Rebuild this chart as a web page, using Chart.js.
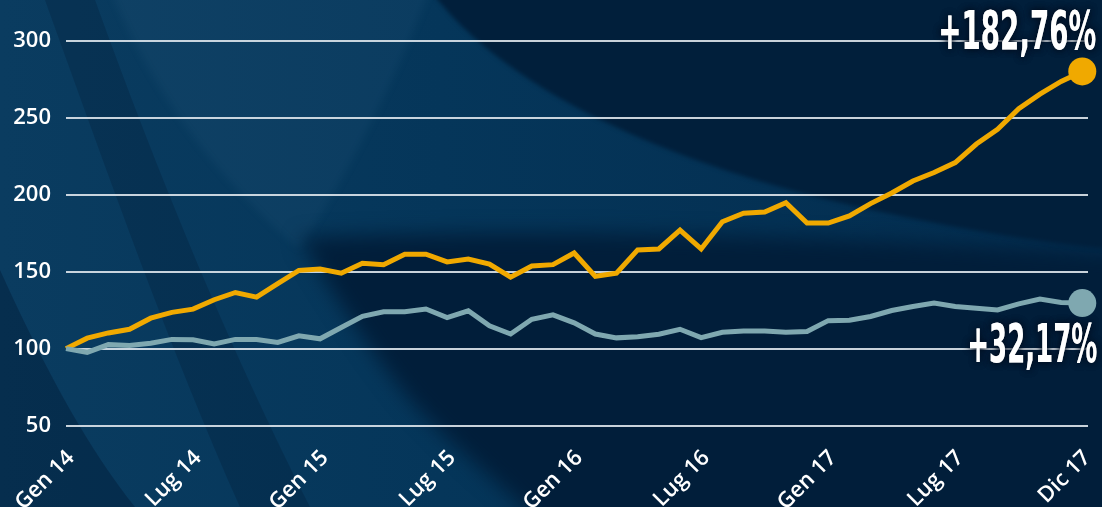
<!DOCTYPE html>
<html><head><meta charset="utf-8">
<script src="https://cdn.jsdelivr.net/npm/chart.js@4.4.1/dist/chart.umd.min.js"></script>
<style>html,body{margin:0;padding:0;background:#022443;overflow:hidden}#wrap{width:1102px;height:507px;position:relative}canvas{display:block}</style>
</head><body><div id="wrap"><canvas id="c" width="1102" height="507"></canvas></div>
<script>
// ---- data ----
const tickLabels = ['Gen 14','Lug 14','Gen 15','Lug 15','Gen 16','Lug 16','Gen 17','Lug 17','Dic 17'];
const tickPositions = [0,6,12,18,24,30,36,42,48];
const yTicks = [50,100,150,200,250,300];
const fundValues = [100,106.8,110.2,112.6,119.8,123.6,125.7,131.8,136.5,133.5,142.2,150.9,151.7,149,155.5,154.6,161.4,161.4,156.4,158.3,155,146.5,153.7,154.6,162.2,147,149.1,164.2,164.8,177.1,164.8,182.5,188,188.8,194.9,181.6,181.6,186.3,194.3,201.2,209,214.5,221,233,242.6,256,265.4,273.7,280.2];
const benchValues = [100,97.6,102.6,102,103.5,106,105.7,103,106,106,104,108.3,106.4,113.7,121,124,124,125.8,120.2,124.6,114.8,109.5,119.1,122,116.8,109.5,107,107.8,109.4,112.6,107.2,110.6,111.5,111.5,110.7,111.2,118.2,118.4,120.9,124.8,127.4,129.6,127.4,126.3,125.2,129.1,132.2,130,129.6];
const endLabels = ['+182,76%','+32,17%'];
const fundColor = '#f0a900';
const benchColor = '#7fa8b0';

function bgDraw(chart){
  const ctx = chart.ctx, W = chart.width, H = chart.height;
  ctx.save();
  // base gradient: lighter on the left
  let g = ctx.createLinearGradient(0,0,W,0);
  g.addColorStop(0,'#0a3c60'); g.addColorStop(0.4,'#05365a'); g.addColorStop(1,'#032c4e');
  ctx.fillStyle = g; ctx.fillRect(0,0,W,H);
  // faint lighter streak top-left
  ctx.save();
  ctx.filter = 'blur(4px)';
  ctx.fillStyle = 'rgba(120,170,210,0.06)';
  ctx.beginPath(); ctx.moveTo(110,-10); ctx.lineTo(430,-10); ctx.bezierCurveTo(380,120,330,200,300,250); ctx.bezierCurveTo(230,190,160,110,110,-10); ctx.closePath(); ctx.fill();
  ctx.restore();
  // darker streak at left
  ctx.fillStyle = 'rgba(0,18,40,0.22)';
  ctx.beginPath(); ctx.moveTo(45,0); ctx.lineTo(95,0); ctx.bezierCurveTo(160,180,230,350,310,507); ctx.lineTo(240,507); ctx.bezierCurveTo(170,350,110,180,45,0); ctx.closePath(); ctx.fill();
  // lower-left dark wedge
  ctx.fillStyle = 'rgba(0,20,45,0.35)';
  ctx.beginPath(); ctx.moveTo(0,270); ctx.bezierCurveTo(50,380,90,450,135,507); ctx.lineTo(0,507); ctx.closePath(); ctx.fill();
  // dark lower-right region
  ctx.save();
  ctx.filter = 'blur(10px)';
  ctx.fillStyle = '#011e3a';
  ctx.beginPath(); ctx.moveTo(W+30,255);
  ctx.bezierCurveTo(900,240,560,225,300,238);
  ctx.bezierCurveTo(330,290,370,350,410,400);
  ctx.bezierCurveTo(460,455,505,485,545,530);
  ctx.lineTo(W+30,H+30); ctx.closePath(); ctx.fill();
  ctx.restore();
  // darkest upper-right
  ctx.save();
  ctx.filter = 'blur(2px)';
  ctx.fillStyle = '#011f3b';
  ctx.beginPath(); ctx.moveTo(430,-10);
  ctx.bezierCurveTo(520,110,720,175,850,205); ctx.bezierCurveTo(950,228,1050,245,W+20,250);
  ctx.lineTo(W+20,-10); ctx.closePath(); ctx.fill();
  ctx.restore();
  ctx.restore();
}

const bgPlugin = { id:'bg', beforeDraw(chart){ bgDraw(chart); } };

const labelPlugin = {
  id:'endLabels',
  afterDraw(chart){
    const ctx = chart.ctx;
    const specs = [
      {ds:1, text:endLabels[0], dx:14, dy:-22, width:158},
      {ds:0, text:endLabels[1], dx:15, dy:59, width:130}
    ];
    specs.forEach(s=>{
      const meta = chart.getDatasetMeta(s.ds);
      const p = meta.data[meta.data.length-1];
      ctx.save();
      ctx.font = 'bold 54px "Liberation Sans Narrow", "DejaVu Sans Condensed", "Roboto Condensed", sans-serif';
      const w = ctx.measureText(s.text).width;
      ctx.translate(p.x + s.dx, p.y + s.dy);
      ctx.scale(s.width / w, 1);
      ctx.textAlign = 'right';
      ctx.textBaseline = 'alphabetic';
      ctx.shadowColor = 'rgba(0,14,32,0.95)';
      ctx.shadowBlur = 7;
      ctx.fillStyle = '#ffffff';
      ctx.fillText(s.text, 0, 0);
      ctx.fillText(s.text, 0, 0);
      ctx.restore();
    });
  }
};

const last = fundValues.length - 1;
const mk = (vals, color) => ({
  data: vals.map((v,i)=>({x:i, y:v})),
  borderColor: color,
  backgroundColor: color,
  borderWidth: 5,
  tension: 0,
  pointRadius: c => c.dataIndex === last ? 14 : 0,
  pointHoverRadius: c => c.dataIndex === last ? 14 : 0,
  pointBorderWidth: 0,
  pointBackgroundColor: color,
  clip: false,
  fill: false
});

new Chart(document.getElementById('c'), {
  type: 'line',
  data: { datasets: [ mk(benchValues, benchColor), mk(fundValues, fundColor) ] },
  options: {
    responsive: false,
    animation: false,
    devicePixelRatio: 1,
    events: [],
    layout: { padding: { top: 20, right: 13, left: 0, bottom: 0 } },
    plugins: { legend: { display: false }, tooltip: { enabled: false } },
    scales: {
      x: {
        type: 'linear', min: 0, max: 48.27,
        grid: { display: false, drawTicks: false }, border: { display: false },
        afterBuildTicks: s => { s.ticks = tickPositions.map(v => ({ value: v })); },
        afterFit: s => { s.height = 62; s.paddingLeft = 0; s.paddingRight = 0; },
        ticks: {
          autoSkip: false, minRotation: 45, maxRotation: 45, padding: 0, labelOffset: 5,
          color: '#ffffff',
          font: { family: '"Open Sans", sans-serif', size: 22, weight: '600' },
          callback: v => tickLabels[tickPositions.indexOf(v)]
        }
      },
      y: {
        min: 37.35, max: 313.65,
        afterBuildTicks: s => { s.ticks = yTicks.map(v => ({ value: v })); },
        afterFit: s => { s.width = 66; s.paddingTop = 0; s.paddingBottom = 0; },
        grid: { color: 'rgba(222,230,236,0.9)', lineWidth: 2, drawTicks: false },
        border: { display: false },
        ticks: {
          padding: 15, color: '#ffffff',
          font: { family: '"Open Sans", sans-serif', size: 22, weight: '600' },
          callback: v => String(v)
        }
      }
    }
  },
  plugins: [bgPlugin, labelPlugin]
});
</script>
</body></html>
